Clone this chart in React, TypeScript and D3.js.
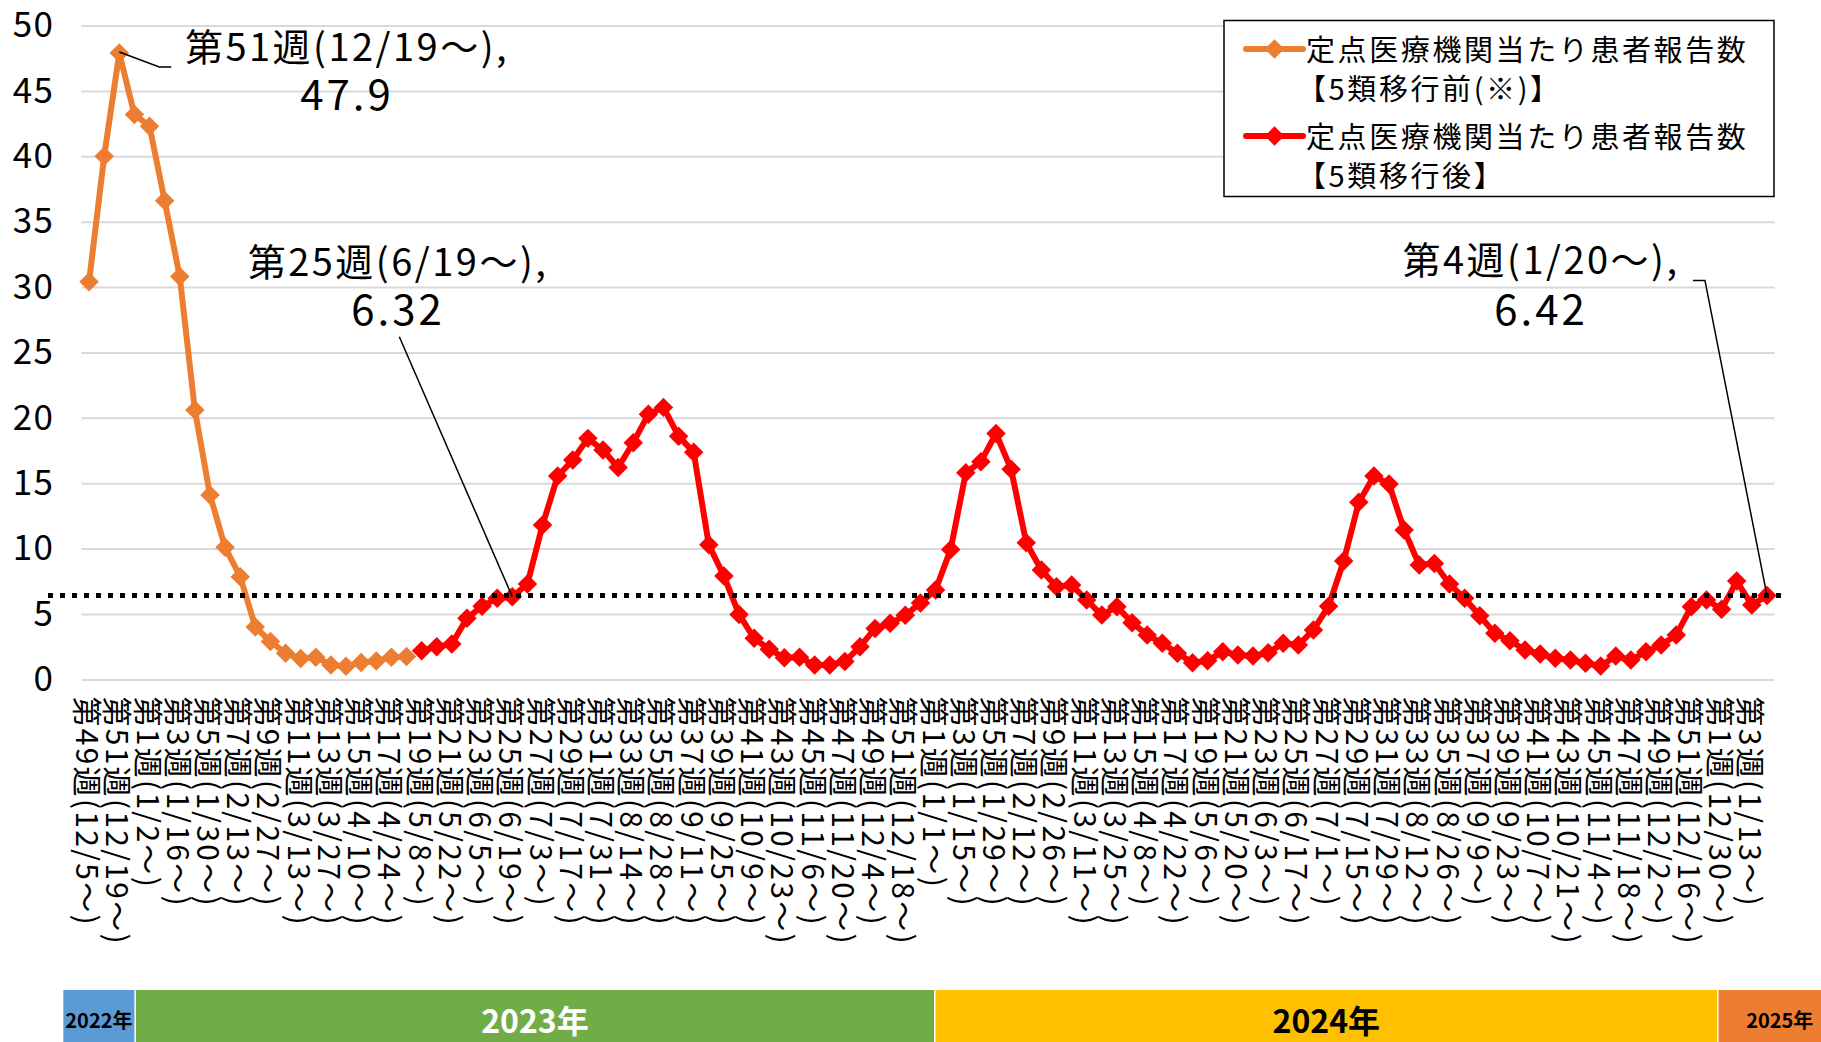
import { useEffect, useRef } from "react";
import * as d3 from "d3";

// 週ラベル（2022年第49週〜2025年第4週）
const categories: string[] = [
  "第49週(12/5～)", "第50週(12/12～)", "第51週(12/19～)", "第52週(12/26～)",
  "第1週(1/2～)", "第2週(1/9～)", "第3週(1/16～)", "第4週(1/23～)", "第5週(1/30～)", "第6週(2/6～)",
  "第7週(2/13～)", "第8週(2/20～)", "第9週(2/27～)", "第10週(3/6～)", "第11週(3/13～)", "第12週(3/20～)",
  "第13週(3/27～)", "第14週(4/3～)", "第15週(4/10～)", "第16週(4/17～)", "第17週(4/24～)", "第18週(5/1～)",
  "第19週(5/8～)", "第20週(5/15～)", "第21週(5/22～)", "第22週(5/29～)", "第23週(6/5～)", "第24週(6/12～)",
  "第25週(6/19～)", "第26週(6/26～)", "第27週(7/3～)", "第28週(7/10～)", "第29週(7/17～)", "第30週(7/24～)",
  "第31週(7/31～)", "第32週(8/7～)", "第33週(8/14～)", "第34週(8/21～)", "第35週(8/28～)", "第36週(9/4～)",
  "第37週(9/11～)", "第38週(9/18～)", "第39週(9/25～)", "第40週(10/2～)", "第41週(10/9～)", "第42週(10/16～)",
  "第43週(10/23～)", "第44週(10/30～)", "第45週(11/6～)", "第46週(11/13～)", "第47週(11/20～)", "第48週(11/27～)",
  "第49週(12/4～)", "第50週(12/11～)", "第51週(12/18～)", "第52週(12/25～)",
  "第1週(1/1～)", "第2週(1/8～)", "第3週(1/15～)", "第4週(1/22～)", "第5週(1/29～)", "第6週(2/5～)",
  "第7週(2/12～)", "第8週(2/19～)", "第9週(2/26～)", "第10週(3/4～)", "第11週(3/11～)", "第12週(3/18～)",
  "第13週(3/25～)", "第14週(4/1～)", "第15週(4/8～)", "第16週(4/15～)", "第17週(4/22～)", "第18週(4/29～)",
  "第19週(5/6～)", "第20週(5/13～)", "第21週(5/20～)", "第22週(5/27～)", "第23週(6/3～)", "第24週(6/10～)",
  "第25週(6/17～)", "第26週(6/24～)", "第27週(7/1～)", "第28週(7/8～)", "第29週(7/15～)", "第30週(7/22～)",
  "第31週(7/29～)", "第32週(8/5～)", "第33週(8/12～)", "第34週(8/19～)", "第35週(8/26～)", "第36週(9/2～)",
  "第37週(9/9～)", "第38週(9/16～)", "第39週(9/23～)", "第40週(9/30～)", "第41週(10/7～)", "第42週(10/14～)",
  "第43週(10/21～)", "第44週(10/28～)", "第45週(11/4～)", "第46週(11/11～)", "第47週(11/18～)", "第48週(11/25～)",
  "第49週(12/2～)", "第50週(12/9～)", "第51週(12/16～)", "第52週(12/23～)",
  "第1週(12/30～)", "第2週(1/6～)", "第3週(1/13～)", "第4週(1/20～)",
];

// 5類移行前（第49週2022〜第18週2023）
const preValues = [
  30.4, 40.0, 47.9, 43.2, 42.3, 36.6, 30.8, 20.6, 14.1, 10.1, 7.85, 4.0, 2.9, 2.0, 1.6, 1.7,
  1.1, 1.0, 1.3, 1.4, 1.7, 1.75,
];

// 5類移行後（第19週2023〜）
const postStart = 22;
const postValues = [
  2.2, 2.5, 2.7, 4.67, 5.6, 6.2, 6.32, 7.29, 11.8, 15.55, 16.77, 18.43, 17.54, 16.2, 18.1, 20.27,
  20.8, 18.6, 17.36, 10.3, 7.9, 4.97, 3.14, 2.3, 1.66, 1.69, 1.1, 1.1, 1.36, 2.5, 3.9, 4.29,
  4.9, 5.85, 6.83, 9.94, 15.8, 16.65, 18.8, 16.06, 10.45, 8.36, 7.09, 7.22, 6.07, 4.92, 5.56, 4.34,
  3.4, 2.76, 2.0, 1.28, 1.43, 2.12, 1.87, 1.79, 2.04, 2.76, 2.63, 3.78, 5.6, 9.05, 13.55, 15.55,
  14.94, 11.42, 8.75, 8.87, 7.29, 6.2, 4.87, 3.52, 2.96, 2.25, 1.94, 1.61, 1.48, 1.23, 1.02, 1.79,
  1.48, 2.12, 2.63, 3.4, 5.56, 6.07, 5.36, 7.52, 5.69, 6.42,
];

const yTicks = [0, 5, 10, 15, 20, 25, 30, 35, 40, 45, 50];
const referenceValue = 6.42;

const legendLabels = [
  ["定点医療機関当たり患者報告数", "【5類移行前(※)】"],
  ["定点医療機関当たり患者報告数", "【5類移行後】"],
];

const yearLabels = ["2022年", "2023年", "2024年", "2025年"];
// 年帯の境界（週インデックス単位）
const yearBandStart = [-1.2, 3.6, 56.5, 108.3];

const annotWeeks = [2, 28, 111];
const annotTitles = ["第51週(12/19～),", "第25週(6/19～),", "第4週(1/20～),"];
const annotValues = ["47.9", "6.32", "6.42"];

const FONT = "'Noto Sans CJK JP', 'Noto Sans', sans-serif";

const Chart = () => {
  const ref = useRef<SVGSVGElement>(null);
  const width = 1821;
  const height = 1042;

  useEffect(() => {
    const svg = d3.select(ref.current);
    svg.selectAll("*").remove();

    const plot = { left: 81.5, right: 1774.5, top: 25.5, bottom: 679.4 };

    const x = d3
      .scaleBand<number>()
      .domain(d3.range(categories.length))
      .range([plot.left, plot.right]);
    const cx = (i: number) => x(i)! + x.bandwidth() / 2;
    // 週インデックス（小数可）→ 左端位置
    const xu = d3
      .scaleLinear()
      .domain([0, categories.length])
      .range([plot.left, plot.right]);

    const y = d3.scaleLinear().domain([0, 50]).range([plot.bottom, plot.top]);

    // grid + y labels
    svg
      .append("g")
      .attr("transform", `translate(${plot.left},0)`)
      .call(
        d3
          .axisLeft(y)
          .tickValues(yTicks)
          .tickSize(-(plot.right - plot.left))
          .tickPadding(27)
      )
      .call((g) => g.select(".domain").remove())
      .call((g) => g.selectAll(".tick line").attr("stroke", "#D9D9D9").attr("stroke-width", 2))
      .call((g) =>
        g
          .selectAll(".tick text")
          .attr("font-size", 35)
          .attr("font-family", FONT)
          .attr("fill", "#000")
          .attr("letter-spacing", 1.5)
      );

    // x labels (every other week, rotated)
    svg
      .append("g")
      .selectAll("text")
      .data(d3.range(0, categories.length, 2))
      .join("text")
      .attr("transform", (i) => `translate(${cx(i)},${plot.bottom + 17}) rotate(90)`)
      .attr("dominant-baseline", "central")
      .attr("font-family", FONT)
      .attr("font-size", 30)
      .attr("letter-spacing", 2.3)
      .attr("fill", "#000")
      .text((i) => categories[i]);

    type Pt = { i: number; v: number };
    const pre: Pt[] = preValues.map((v, i) => ({ i, v }));
    const post: Pt[] = postValues.map((v, k) => ({ i: postStart + k, v }));

    const line = d3
      .line<Pt>()
      .x((d) => cx(d.i))
      .y((d) => y(d.v));

    const diamond = d3.symbol().type(d3.symbolSquare).size(190);

    const drawSeries = (data: Pt[], color: string) => {
      svg
        .append("path")
        .datum(data)
        .attr("fill", "none")
        .attr("stroke", color)
        .attr("stroke-width", 6)
        .attr("stroke-linejoin", "round")
        .attr("d", line);
      svg
        .append("g")
        .selectAll("path")
        .data(data)
        .join("path")
        .attr("d", diamond()!)
        .attr("transform", (d) => `translate(${cx(d.i)},${y(d.v)}) rotate(45)`)
        .attr("fill", color);
    };
    drawSeries(pre, "#ED7D31");
    drawSeries(post, "#FF0000");

    // dotted reference line
    svg
      .append("line")
      .attr("x1", 48)
      .attr("x2", 1782)
      .attr("y1", y(referenceValue))
      .attr("y2", y(referenceValue))
      .attr("stroke", "#000")
      .attr("stroke-width", 5)
      .attr("stroke-dasharray", "5 7");

    // annotations
    const annotLayout = [
      { tx: 347, ty1: 44, ty2: 91, leader: (px: number, py: number) => [[px, py - 1], [px + 40, py + 14], [px + 52, py + 14]] },
      { tx: 398, ty1: 259, ty2: 306, leader: (px: number, py: number) => [[px - 113, py - 260], [px, py]] },
      { tx: 1541, ty1: 257, ty2: 306, leader: (px: number, py: number) => [[px - 74, py - 315], [px - 62, py - 315], [px, py]] },
    ];
    annotWeeks.forEach((w, k) => {
      const src = w < postStart ? preValues[w] : postValues[w - postStart];
      const px = cx(w);
      const py = y(src);
      const lay = annotLayout[k];
      svg
        .append("path")
        .attr("d", d3.line()(lay.leader(px, py) as [number, number][]))
        .attr("fill", "none")
        .attr("stroke", "#000")
        .attr("stroke-width", 1.5);
      const t = svg
        .append("g")
        .attr("font-family", FONT)
        .attr("text-anchor", "middle")
        .attr("dominant-baseline", "central")
        .attr("fill", "#000");
      t.append("text")
        .attr("x", lay.tx)
        .attr("y", lay.ty1)
        .attr("font-size", 38)
        .attr("letter-spacing", 2.5)
        .text(annotTitles[k]);
      t.append("text")
        .attr("x", lay.tx)
        .attr("y", lay.ty2)
        .attr("font-size", 42)
        .attr("letter-spacing", 3)
        .text(annotValues[k]);
    });

    // legend
    const lg = svg.append("g");
    lg.append("rect")
      .attr("x", 1224)
      .attr("y", 20.5)
      .attr("width", 550)
      .attr("height", 176)
      .attr("fill", "#fff")
      .attr("stroke", "#000")
      .attr("stroke-width", 1.5);
    const legendColors = ["#ED7D31", "#FF0000"];
    legendLabels.forEach((lines, k) => {
      const ly = 49 + k * 87;
      lg.append("line")
        .attr("x1", 1246)
        .attr("x2", 1303)
        .attr("y1", ly)
        .attr("y2", ly)
        .attr("stroke", legendColors[k])
        .attr("stroke-width", 6)
        .attr("stroke-linecap", "round");
      lg.append("path")
        .attr("d", diamond()!)
        .attr("transform", `translate(1274.5,${ly}) rotate(45)`)
        .attr("fill", legendColors[k]);
      lines.forEach((s, j) => {
        lg.append("text")
          .attr("x", j === 0 ? 1306 : 1297)
          .attr("y", ly - 1 + j * 38.5)
          .attr("dominant-baseline", "central")
          .attr("font-family", FONT)
          .attr("font-size", 29)
          .attr("letter-spacing", 2.6)
          .attr("fill", "#000")
          .text(s);
      });
    });

    // year band
    const bandFill = ["#5B9BD5", "#70AD47", "#FFC000", "#ED7D31"];
    const bandText = ["#000", "#fff", "#000", "#000"];
    const bandSize = [20, 32, 32, 20];
    const yb = svg.append("g");
    yearLabels.forEach((lab, k) => {
      const x0 = xu(yearBandStart[k]);
      const x1 = k < yearLabels.length - 1 ? xu(yearBandStart[k + 1]) - 1.5 : width;
      yb.append("rect")
        .attr("x", x0)
        .attr("y", 990)
        .attr("width", x1 - x0)
        .attr("height", height - 990)
        .attr("fill", bandFill[k]);
      yb.append("text")
        .attr("x", k === 3 ? (x0 + x1) / 2 + 10 : (x0 + x1) / 2)
        .attr("y", 1019)
        .attr("text-anchor", "middle")
        .attr("dominant-baseline", "central")
        .attr("font-family", FONT)
        .attr("font-weight", "bold")
        .attr("font-size", bandSize[k])
        .attr("fill", bandText[k])
        .text(lab);
    });
  }, []);

  return (
    <svg
      ref={ref}
      width={width}
      height={height}
      style={{ position: "absolute", left: 0, top: 0, background: "#fff" }}
    />
  );
};

export default function App() {
  return <Chart />;
}
